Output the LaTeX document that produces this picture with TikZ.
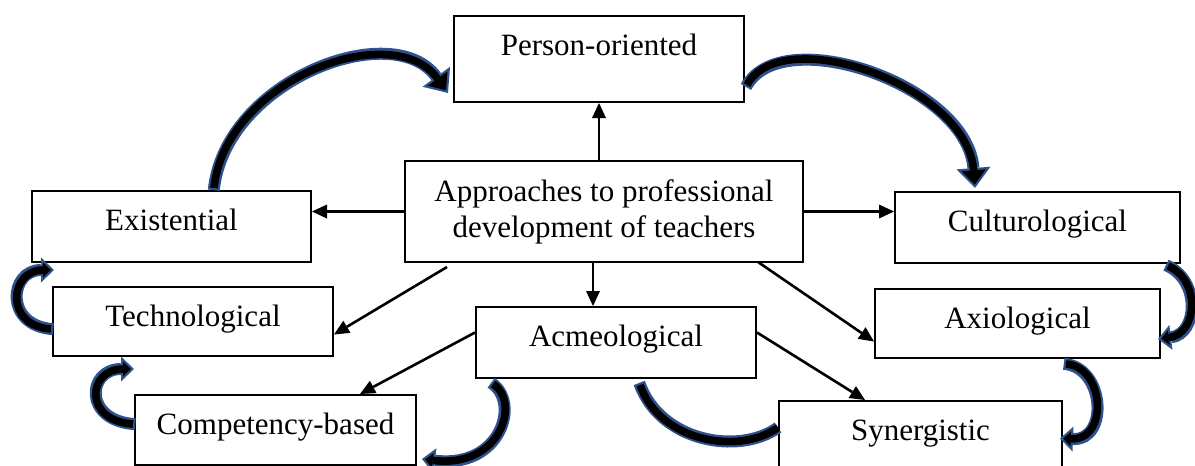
\documentclass[tikz,border=0pt]{standalone}
\usepackage{fontspec}
\setmainfont{Liberation Serif}
\usetikzlibrary{arrows.meta}
\definecolor{rimblue}{RGB}{47,82,143}

\begin{document}
\begin{tikzpicture}[x=0.5pt, y=-0.5pt, thick, font=\fontsize{15.5pt}{18pt}\selectfont,
    main/.style = {draw, rectangle, inner sep=0pt, align=center, line width=1pt},
    tbox/.style 2 args = {main, anchor=north, minimum width=#1, text height=19.5pt, text depth=#2},
    link/.style = {line width=1.3pt, -{Triangle[length=7.5pt, width=7pt, line width=0pt]}},
    blockcurve/.style = {draw=rimblue, line width=6pt, shorten <=-1.1pt, -{Triangle[length=6.5pt, width=12.5pt, line width=0pt]},
        postaction={draw=black, line width=3.8pt, shorten <=0pt, shorten >=1.58pt, -{Triangle[length=3.82pt, width=7.3pt, line width=0pt]}}},
    bigcurve/.style = {draw=rimblue, line width=6pt, shorten <=-1.1pt, -{Triangle[length=10pt, width=17pt, line width=0pt]},
        postaction={draw=black, line width=3.8pt, shorten <=0pt, shorten >=1.7pt, -{Triangle[length=7.2pt, width=12.2pt, line width=0pt]}}},
    blocktail/.style = {draw=rimblue, line width=6pt, shorten <=-1.1pt, postaction={draw=black, line width=3.8pt, shorten <=0pt}}
    ]
\useasboundingbox (0,0) rectangle (1195,466);

\node[main, minimum width=199pt, minimum height=50.5pt] (0) at (604,211.5) {Approaches to professional\\development of teachers};
\node[tbox={145pt}{23.5pt}] (1) at (599,15) {Person-oriented};
\node[tbox={139.5pt}{16pt}] (2) at (171.5,190) {Existential};
\node[tbox={142.5pt}{16pt}] (3) at (1037.5,191) {Culturological};
\node[tbox={140pt}{15pt}] (4) at (193,286) {Technological};
\node[tbox={142.5pt}{15pt}] (5) at (1017.5,288) {Axiological};
\node[tbox={140pt}{16pt}] (6) at (616,306) {Acmeological};
\node[tbox={140.5pt}{15.5pt}] (7) at (275.5,394) {Competency-based};
\node[tbox={141.5pt}{15pt}] (8) at (920.5,400) {Synergistic};

\draw[link] (0.north -| 1.south) -- (1.south);
\draw[link] (0.west) -- (0.west -| 2.east);
\draw[link] (0.east) -- (0.east -| 3.west);
\draw[link] ([shift={(-11,0)}]0.south) -- ([shift={(-23,0)}]6.north);
\draw[link] ([shift={(43,4)}]0.south west) -- ([shift={(0,13)}]4.east);
\draw[link] ([shift={(-46,-1)}]0.south east) -- ([shift={(0,18)}]5.west);
\draw[link] ([shift={(0,-10)}]6.west) -- ([shift={(84.5,0)}]7.north);
\draw[link] ([shift={(0,-10)}]6.east) -- ([shift={(-55.5,0)}]8.north);

\draw[bigcurve] ([shift={(42.5,-2)}]2.north) .. controls +(11,-108) and +(-55,-76) .. ([shift={(-5,78)}]1.north west);
\draw[bigcurve] ([shift={(2,26)}]1.east) .. controls +(34,-64) and +(-8,-103) .. ([shift={(-62.5,-3)}]3.north);
\draw[blockcurve] ([shift={(-13,2)}]3.south east) .. controls +(33,14) and +(40,-5) .. ([shift={(-3,15.5)}]5.east);
\draw[blockcurve] ([shift={(48.5,5)}]5.south) .. controls +(39,3) and +(49,2) .. ([shift={(-3,3)}]8.east);
\draw[blocktail] ([shift={(24,6)}]6.south) .. controls +(20,57) and +(-39,28) .. ([shift={(0,-8)}]8.west);
\draw[blockcurve] ([shift={(18,5)}]6.south west) .. controls +(28,18) and +(79,10) .. ([shift={(5,29)}]7.east);
\draw[blockcurve] ([shift={(-1,7.5)}]4.west) .. controls +(-47,-3) and +(-45,0) .. ([shift={(23,7)}]2.south west);
\draw[blockcurve] ([shift={(-1,-6)}]7.west) .. controls +(-50,-3) and +(-47,0) .. ([shift={(82,12)}]4.south west);

\end{tikzpicture}
\end{document}
